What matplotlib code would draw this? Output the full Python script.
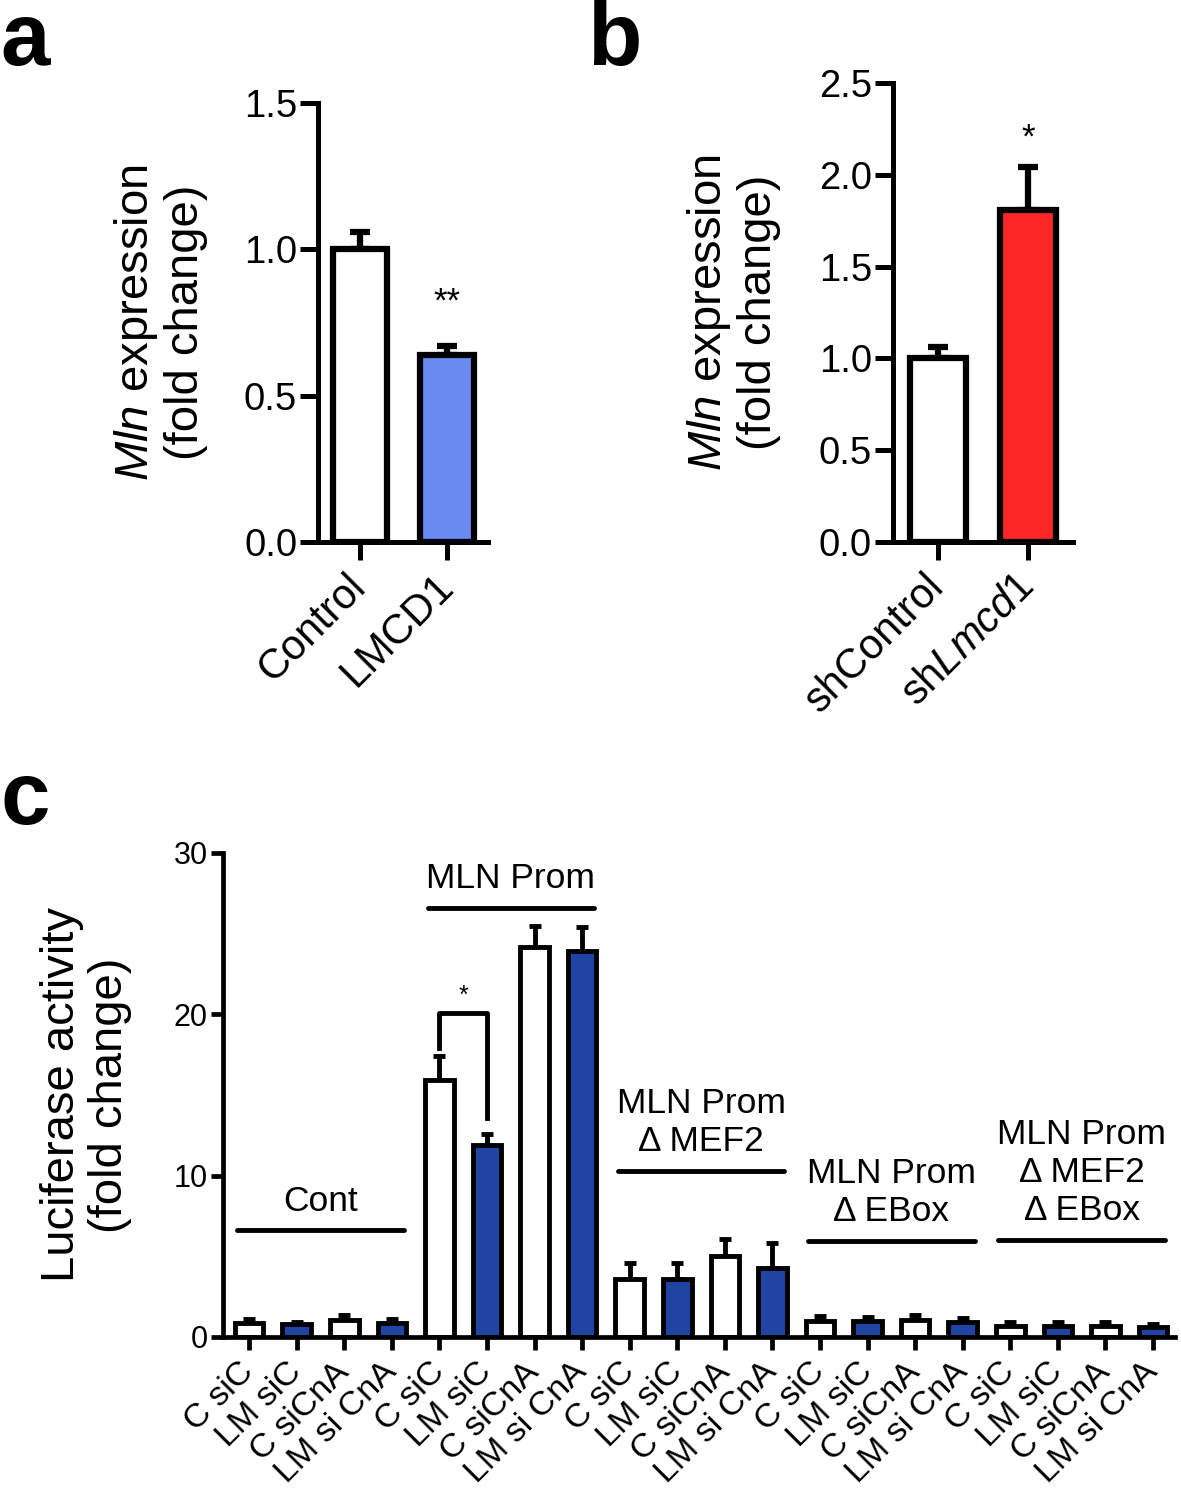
import numpy as np
import matplotlib
matplotlib.use("Agg")
import matplotlib.pyplot as plt

plt.rcParams['font.family'] = ['Liberation Sans', 'DejaVu Sans']
plt.rcParams['mathtext.fontset'] = 'custom'
plt.rcParams['mathtext.rm'] = 'Liberation Sans'
plt.rcParams['mathtext.it'] = 'Liberation Sans:italic'

# panel a
a_labels = ['Control', 'LMCD1']
a_vals = [1.0, 0.64]
a_err = [0.06, 0.03]
# panel b
b_labels = ['shControl', 'sh$\\mathit{Lmcd1}$']
b_vals = [1.0, 1.81]
b_err = [0.06, 0.23]
# panel c
c_labels = ['C siC', 'LM siC', 'C siCnA', 'LM si CnA'] * 5
c_vals = [0.87, 0.8, 1.05, 0.87,
          15.9, 11.9, 24.2, 23.9,
          3.6, 3.6, 5.0, 4.3,
          1.0, 1.0, 1.05, 0.95,
          0.7, 0.65, 0.7, 0.6]
c_err = [0.25, 0.15, 0.3, 0.25,
         1.5, 0.7, 1.3, 1.5,
         1.0, 1.0, 1.1, 1.5,
         0.3, 0.25, 0.3, 0.25,
         0.25, 0.25, 0.2, 0.2]
c_groups = ['Cont', 'MLN Prom', 'MLN Prom\nΔ MEF2', 'MLN Prom\nΔ EBox', 'MLN Prom\nΔ MEF2\nΔ EBox']
c_group_line_y = [6.6, 26.6, 10.3, 5.95, 6.0]

white = 'white'
blue_a = '#6a8cf2'
red_b = '#fb2626'
blue_c = '#1f44a3'

fig = plt.figure(figsize=(11.81, 14.88), dpi=100)

def style_axes(ax, lw, ticklen, lsize):
    for s in ['top', 'right']:
        ax.spines[s].set_visible(False)
    for s in ['left', 'bottom']:
        ax.spines[s].set_linewidth(lw)
    ax.tick_params(width=lw, length=ticklen, labelsize=lsize, direction='out', pad=2)

# ---- a ----
axa = fig.add_axes([0.2693, 0.6358, 0.144, 0.2950])
xa = np.arange(2)
axa.errorbar(xa, a_vals, yerr=[[0, 0], a_err], fmt='none', ecolor='black', elinewidth=4.5,
             capsize=7, capthick=4.5, zorder=1)
axa.bar(xa, a_vals, width=0.62, color=[white, blue_a], edgecolor='black', linewidth=4.5, zorder=2)
axa.set_xlim(-0.48, 1.47)
axa.set_ylim(0, 1.5)
axa.set_yticks([0, 0.5, 1.0, 1.5])
axa.set_yticklabels(['0.0', '0.5', '1.0', '1.5'])
axa.set_xticks(xa)
style_axes(axa, 3.6, 13, 27.5)
axa.set_xticklabels(a_labels, rotation=45, ha='right', va='center', rotation_mode='anchor', fontsize=30)
axa.tick_params(axis='x', pad=15)
axa.text(1, 0.82, '**', ha='center', va='center', fontsize=25)
axa.set_ylabel('$\\mathit{Mln}$ expression\n(fold change)', fontsize=34, labelpad=26, linespacing=1.12)

# ---- b ----
axb = fig.add_axes([0.7561, 0.6358, 0.1524, 0.3085])
xb = np.arange(2)
axb.errorbar(xb, b_vals, yerr=[[0, 0], b_err], fmt='none', ecolor='black', elinewidth=4.5,
             capsize=7, capthick=4.5, zorder=1)
axb.bar(xb, b_vals, width=0.62, color=[white, red_b], edgecolor='black', linewidth=4.5, zorder=2)
axb.set_xlim(-0.5, 1.5)
axb.set_ylim(0, 2.5)
axb.set_yticks([0, 0.5, 1.0, 1.5, 2.0, 2.5])
axb.set_yticklabels(['0.0', '0.5', '1.0', '1.5', '2.0', '2.5'])
axb.set_xticks(xb)
style_axes(axb, 3.6, 13, 27.5)
axb.set_xticklabels(b_labels, rotation=45, ha='right', va='center', rotation_mode='anchor', fontsize=30)
axb.tick_params(axis='x', pad=15)
axb.text(1, 2.2, '*', ha='center', va='center', fontsize=25)
axb.set_ylabel('$\\mathit{Mln}$ expression\n(fold change)', fontsize=34, labelpad=27, linespacing=1.12)

# ---- c ----
axc = fig.add_axes([0.1888, 0.1015, 0.806, 0.3253])
xc = np.arange(len(c_vals))
c_colors = [white, blue_c] * 10
axc.errorbar(xc, c_vals, yerr=[np.zeros(len(c_err)), c_err], fmt='none', ecolor='black',
             elinewidth=3.5, capsize=4.5, capthick=3.5, zorder=1)
axc.bar(xc, c_vals, width=0.6, color=c_colors, edgecolor='black', linewidth=3.5, zorder=2)
axc.set_xlim(-0.55, 19.46)
axc.set_ylim(0, 30)
axc.set_yticks([0, 10, 20, 30])
axc.set_xticks(xc)
style_axes(axc, 3.4, 9, 22)
axc.set_xticklabels(c_labels, rotation=45, ha='right', va='center', rotation_mode='anchor', fontsize=24.5)
axc.tick_params(axis='x', pad=13)
axc.set_ylabel('Luciferase activity\n(fold change)', fontsize=34, labelpad=30, linespacing=1.12)

for g, name in enumerate(c_groups):
    x0 = g * 4
    ly = c_group_line_y[g]
    axc.plot([x0 - 0.25, x0 + 3.25], [ly, ly], color='black', lw=3.5,
             solid_capstyle='round', clip_on=False)
    axc.text(x0 + 1.5, ly + 0.8, name, ha='center', va='bottom', fontsize=25.5,
             linespacing=1.2, clip_on=False)

# significance bracket between MLN Prom C siC and LM siC
axc.plot([4, 4, 5, 5], [17.9, 20.1, 20.1, 13.6], color='black', lw=3.5, solid_joinstyle='round')
axc.text(4.5, 20.4, '*', ha='center', va='bottom', fontsize=18)

# panel letters
fig.text(0.0, 0.956, 'a', fontsize=64, fontweight='bold', va='baseline')
fig.text(0.497, 0.956, 'b', fontsize=64, fontweight='bold', va='baseline')
fig.text(0.0, 0.446, 'c', fontsize=64, fontweight='bold', va='baseline')

fig.savefig('out.png', dpi=100)
